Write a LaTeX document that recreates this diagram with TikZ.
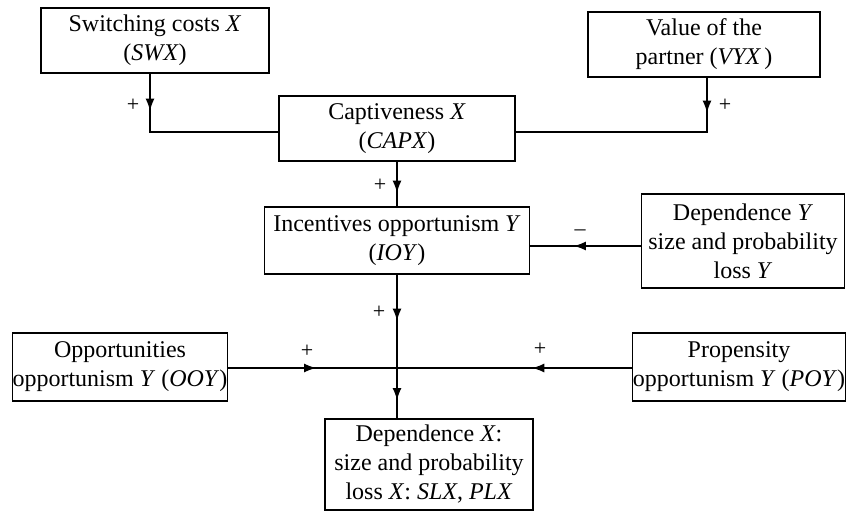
\documentclass[tikz,border=0pt]{standalone}
\usepackage{fontspec}
\setmainfont{Liberation Serif}
\usetikzlibrary{arrows.meta,decorations.markings}
\begin{document}
\begin{tikzpicture}[x=1pt,y=-1pt,
  box/.style={draw,line width=1.2pt,align=center,inner sep=0pt,font=\fontsize{24}{29}\selectfont},
  conn/.style={line width=1.2pt},
  tip/.style={postaction={decorate},decoration={markings,mark=at position #1 with {\arrow{Latex[length=12pt,width=9pt]}}}},
  sign/.style={font=\fontsize{22}{26}\selectfont,inner sep=0pt}]
\useasboundingbox (0,0) rectangle (846,513);
\fill[white] (0,0) rectangle (846,513);

\node[box,minimum width=228pt,minimum height=65pt] (swx) at (155,40.5) {Switching costs \textit{X}\\(\textit{SWX})};
\node[box,minimum width=232pt,minimum height=65pt] (vyx) at (704,44.5) {Value of the\\partner (\textit{VYX\,})};
\node[box,minimum width=236pt,minimum height=65pt] (capx) at (397,128.5) {Captiveness \textit{X}\\(\textit{CAPX})};
\node[box,minimum width=265pt,minimum height=67pt] (ioy) at (397,240.5) {Incentives opportunism \textit{Y}\\(\textit{IOY})};
\node[box,minimum width=203pt,minimum height=94pt] (depy) at (743,241) {Dependence \textit{Y}\\size and probability\\loss \textit{Y}};
\node[box,minimum width=214pt,minimum height=68pt] (ooy) at (120,367) {Opportunities\\opportunism \textit{Y} (\textit{OOY})};
\node[box,minimum width=212pt,minimum height=68pt] (poy) at (739,367) {Propensity\\opportunism \textit{Y} (\textit{POY})};
\node[box,minimum width=208pt,minimum height=91pt] (depx) at (429,464.5) {Dependence \textit{X}:\\size and probability\\loss \textit{X}: \textit{SLX}, \textit{PLX}};

\coordinate (swxturn) at (150,132);
\coordinate (vyxturn) at (707,132);
\coordinate (dyl) at (0,246);
\coordinate (j) at (397,368);

\draw[conn,tip=37pt] (swx.south -| swxturn) -- (swxturn) -- (capx.west |- swxturn);
\draw[conn,tip=35pt] (vyx.south -| vyxturn) -- (vyxturn) -- (capx.east |- vyxturn);
\draw[conn,tip=31pt] (capx.south) -- (ioy.north);
\draw[conn,tip=67pt] (depy.west |- dyl) -- (ioy.east |- dyl);
\draw[conn,tip=46pt] (ioy.south) -- (j);
\draw[conn,tip=32pt] (j) -- (j |- depx.north);
\draw[conn,tip=88pt] (ooy.east |- j) -- (j);
\draw[conn,tip=100pt] (poy.west |- j) -- (j);

\node[sign] (p1) at (133,105) {+};
\node[sign] (p2) at (725,105) {+};
\node[sign] (p3) at (380,185) {+};
\node[sign] (m1) at (580,233) {–};
\node[sign] (p4) at (379,312) {+};
\node[sign] (p5) at (307,351) {+};
\node[sign] (p6) at (540,349) {+};
\end{tikzpicture}
\end{document}
